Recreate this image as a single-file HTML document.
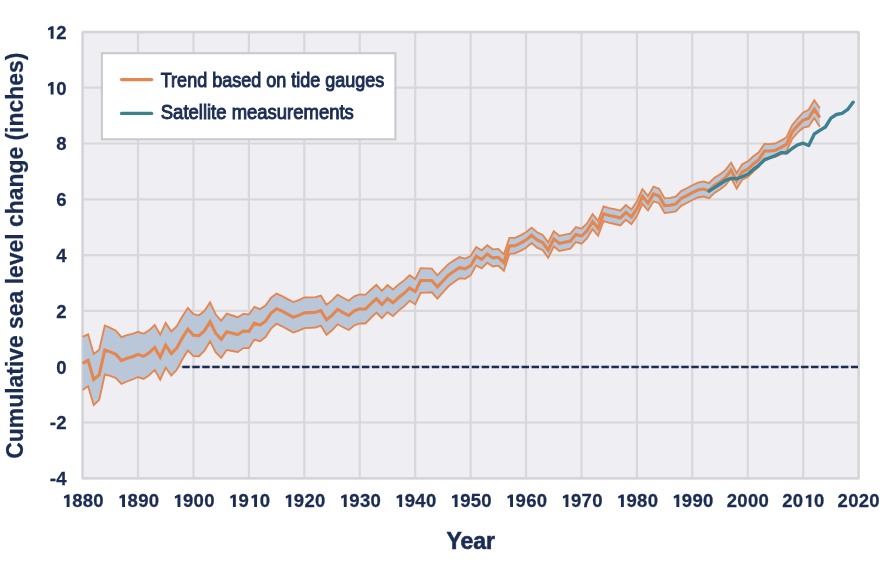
<!DOCTYPE html>
<html><head><meta charset="utf-8"><style>html,body{margin:0;padding:0;background:#fff;}svg{display:block;filter:blur(0.35px);}</style></head>
<body><svg width="880" height="567" viewBox="0 0 880 567">
<rect x="0" y="0" width="880" height="567" fill="#ffffff"/>
<rect x="82.6" y="31.9" width="776" height="446.4" fill="#efeef3"/>
<g stroke="#d8d8db" stroke-width="2.2" fill="none"><line x1="82.6" y1="31.9" x2="82.6" y2="478.3"/><line x1="138.0" y1="31.9" x2="138.0" y2="478.3"/><line x1="193.5" y1="31.9" x2="193.5" y2="478.3"/><line x1="248.9" y1="31.9" x2="248.9" y2="478.3"/><line x1="304.3" y1="31.9" x2="304.3" y2="478.3"/><line x1="359.8" y1="31.9" x2="359.8" y2="478.3"/><line x1="415.2" y1="31.9" x2="415.2" y2="478.3"/><line x1="470.6" y1="31.9" x2="470.6" y2="478.3"/><line x1="526.0" y1="31.9" x2="526.0" y2="478.3"/><line x1="581.5" y1="31.9" x2="581.5" y2="478.3"/><line x1="636.9" y1="31.9" x2="636.9" y2="478.3"/><line x1="692.3" y1="31.9" x2="692.3" y2="478.3"/><line x1="747.8" y1="31.9" x2="747.8" y2="478.3"/><line x1="803.2" y1="31.9" x2="803.2" y2="478.3"/><line x1="858.6" y1="31.9" x2="858.6" y2="478.3"/><line x1="82.6" y1="478.3" x2="858.6" y2="478.3"/><line x1="82.6" y1="422.5" x2="858.6" y2="422.5"/><line x1="82.6" y1="366.7" x2="858.6" y2="366.7"/><line x1="82.6" y1="310.9" x2="858.6" y2="310.9"/><line x1="82.6" y1="255.1" x2="858.6" y2="255.1"/><line x1="82.6" y1="199.3" x2="858.6" y2="199.3"/><line x1="82.6" y1="143.5" x2="858.6" y2="143.5"/><line x1="82.6" y1="87.7" x2="858.6" y2="87.7"/><line x1="82.6" y1="31.9" x2="858.6" y2="31.9"/></g>
<rect x="82.6" y="32.3" width="776" height="446" fill="none" stroke="#d4d4d7" stroke-width="2.1"/>
<line x1="182.3" y1="366.9" x2="858" y2="366.9" stroke="#1b2c52" stroke-width="2.5" stroke-dasharray="7.4 2.58"/>
<polygon points="82.6,336.8 88.1,334.3 93.7,354.0 99.2,349.8 104.8,325.5 110.3,327.9 115.9,330.7 121.4,337.1 126.9,335.2 132.5,333.8 138.0,331.8 143.6,333.8 149.1,330.3 154.7,325.0 160.2,334.8 165.7,322.9 171.3,331.5 176.8,326.2 182.4,316.2 187.9,308.1 193.5,314.2 199.0,315.3 204.5,310.8 210.1,302.4 215.6,314.3 221.2,320.9 226.7,313.7 232.3,315.5 237.8,317.2 243.3,313.9 248.9,314.5 254.4,306.8 260.0,309.1 265.5,305.5 271.1,297.7 276.6,293.6 282.1,296.1 287.7,299.1 293.2,302.1 298.8,300.1 304.3,297.5 309.9,297.3 315.4,297.1 320.9,295.5 326.5,304.8 332.0,300.4 337.6,294.7 343.1,297.8 348.7,300.7 354.2,296.3 359.8,294.4 365.3,294.9 370.8,289.8 376.4,284.7 381.9,290.8 387.5,285.1 393.0,289.5 398.6,284.4 404.1,280.4 409.6,275.3 415.2,279.1 420.7,268.2 426.3,268.4 431.8,268.7 437.4,275.3 442.9,269.7 448.4,264.1 454.0,260.4 459.5,257.1 465.1,258.6 470.6,256.0 476.2,247.0 481.7,250.3 487.2,245.2 492.8,249.3 498.3,248.9 503.9,254.4 509.4,237.9 515.0,237.8 520.5,235.3 526.0,232.3 531.6,227.6 537.1,232.3 542.7,234.9 548.2,242.5 553.8,231.3 559.3,235.8 564.8,234.7 570.4,233.6 575.9,227.0 581.5,228.6 587.0,223.4 592.6,214.2 598.1,220.9 603.6,206.4 609.2,208.1 614.7,209.2 620.3,210.6 625.8,205.0 631.4,209.5 636.9,201.4 642.4,189.2 648.0,195.9 653.5,186.7 659.1,188.7 664.6,198.4 670.2,197.9 675.7,196.7 681.2,191.1 686.8,188.3 692.3,185.2 697.9,182.6 703.4,181.5 709.0,183.1 714.5,177.8 720.0,174.4 725.6,169.9 731.1,162.6 736.7,173.2 742.2,164.2 747.8,161.4 753.3,156.3 758.8,152.3 764.4,143.9 769.9,144.1 775.5,143.5 781.0,140.6 786.6,137.2 792.1,125.2 797.6,118.7 803.2,112.4 808.7,109.8 814.3,100.3 819.8,108.3 819.8,126.8 814.3,118.1 808.7,126.4 803.2,127.7 797.6,132.6 792.1,139.0 786.6,150.9 781.0,154.2 775.5,156.9 769.9,158.0 764.4,158.2 758.8,167.0 753.3,171.5 747.8,177.0 742.2,179.7 736.7,188.6 731.1,178.0 725.6,185.2 720.0,189.6 714.5,192.9 709.0,198.2 703.4,196.5 697.9,197.5 692.3,200.0 686.8,203.0 681.2,205.8 675.7,211.3 670.2,212.4 664.6,213.0 659.1,203.2 653.5,201.3 648.0,210.5 642.4,203.8 636.9,216.1 631.4,224.2 625.8,219.8 620.3,225.4 614.7,224.0 609.2,222.9 603.6,221.2 598.1,235.8 592.6,229.1 587.0,238.3 581.5,243.6 575.9,242.0 570.4,248.7 564.8,249.8 559.3,250.9 553.8,246.5 548.2,257.7 542.7,250.2 537.1,247.7 531.6,243.0 526.0,247.8 520.5,250.9 515.0,253.4 509.4,253.9 503.9,270.8 498.3,265.7 492.8,266.5 487.2,262.8 481.7,268.3 476.2,265.4 470.6,275.4 465.1,278.9 459.5,278.3 454.0,282.1 448.4,286.3 442.9,292.4 437.4,298.5 431.8,292.3 426.3,292.6 420.7,292.8 415.2,304.2 409.6,300.8 404.1,306.3 398.6,310.6 393.0,316.1 387.5,312.2 381.9,318.2 376.4,312.5 370.8,318.0 365.3,323.5 359.8,323.5 354.2,325.5 348.7,330.0 343.1,327.3 337.6,324.3 332.0,330.3 326.5,334.8 320.9,325.7 315.4,327.5 309.9,327.8 304.3,328.2 298.8,330.7 293.2,332.6 287.7,329.4 282.1,326.3 276.6,323.7 271.1,328.5 265.5,337.0 260.0,341.2 254.4,339.6 248.9,348.0 243.3,348.1 237.8,352.0 232.3,351.0 226.7,349.9 221.2,357.8 215.6,352.1 210.1,341.2 204.5,350.6 199.0,356.2 193.5,356.1 187.9,350.5 182.4,359.2 176.8,369.8 171.3,375.6 165.7,367.5 160.2,379.6 154.7,369.9 149.1,375.2 143.6,378.9 138.0,377.0 132.5,379.5 126.9,381.5 121.4,384.0 115.9,378.1 110.3,375.9 104.8,374.5 99.2,399.8 93.7,405.0 88.1,386.3 82.6,389.9" fill="#b9c7d8" stroke="none"/>
<polyline points="82.6,336.8 88.1,334.3 93.7,354.0 99.2,349.8 104.8,325.5 110.3,327.9 115.9,330.7 121.4,337.1 126.9,335.2 132.5,333.8 138.0,331.8 143.6,333.8 149.1,330.3 154.7,325.0 160.2,334.8 165.7,322.9 171.3,331.5 176.8,326.2 182.4,316.2 187.9,308.1 193.5,314.2 199.0,315.3 204.5,310.8 210.1,302.4 215.6,314.3 221.2,320.9 226.7,313.7 232.3,315.5 237.8,317.2 243.3,313.9 248.9,314.5 254.4,306.8 260.0,309.1 265.5,305.5 271.1,297.7 276.6,293.6 282.1,296.1 287.7,299.1 293.2,302.1 298.8,300.1 304.3,297.5 309.9,297.3 315.4,297.1 320.9,295.5 326.5,304.8 332.0,300.4 337.6,294.7 343.1,297.8 348.7,300.7 354.2,296.3 359.8,294.4 365.3,294.9 370.8,289.8 376.4,284.7 381.9,290.8 387.5,285.1 393.0,289.5 398.6,284.4 404.1,280.4 409.6,275.3 415.2,279.1 420.7,268.2 426.3,268.4 431.8,268.7 437.4,275.3 442.9,269.7 448.4,264.1 454.0,260.4 459.5,257.1 465.1,258.6 470.6,256.0 476.2,247.0 481.7,250.3 487.2,245.2 492.8,249.3 498.3,248.9 503.9,254.4 509.4,237.9 515.0,237.8 520.5,235.3 526.0,232.3 531.6,227.6 537.1,232.3 542.7,234.9 548.2,242.5 553.8,231.3 559.3,235.8 564.8,234.7 570.4,233.6 575.9,227.0 581.5,228.6 587.0,223.4 592.6,214.2 598.1,220.9 603.6,206.4 609.2,208.1 614.7,209.2 620.3,210.6 625.8,205.0 631.4,209.5 636.9,201.4 642.4,189.2 648.0,195.9 653.5,186.7 659.1,188.7 664.6,198.4 670.2,197.9 675.7,196.7 681.2,191.1 686.8,188.3 692.3,185.2 697.9,182.6 703.4,181.5 709.0,183.1 714.5,177.8 720.0,174.4 725.6,169.9 731.1,162.6 736.7,173.2 742.2,164.2 747.8,161.4 753.3,156.3 758.8,152.3 764.4,143.9 769.9,144.1 775.5,143.5 781.0,140.6 786.6,137.2 792.1,125.2 797.6,118.7 803.2,112.4 808.7,109.8 814.3,100.3 819.8,108.3" fill="none" stroke="#e4864f" stroke-width="1.85" stroke-linejoin="miter"/>
<polyline points="82.6,389.9 88.1,386.3 93.7,405.0 99.2,399.8 104.8,374.5 110.3,375.9 115.9,378.1 121.4,384.0 126.9,381.5 132.5,379.5 138.0,377.0 143.6,378.9 149.1,375.2 154.7,369.9 160.2,379.6 165.7,367.5 171.3,375.6 176.8,369.8 182.4,359.2 187.9,350.5 193.5,356.1 199.0,356.2 204.5,350.6 210.1,341.2 215.6,352.1 221.2,357.8 226.7,349.9 232.3,351.0 237.8,352.0 243.3,348.1 248.9,348.0 254.4,339.6 260.0,341.2 265.5,337.0 271.1,328.5 276.6,323.7 282.1,326.3 287.7,329.4 293.2,332.6 298.8,330.7 304.3,328.2 309.9,327.8 315.4,327.5 320.9,325.7 326.5,334.8 332.0,330.3 337.6,324.3 343.1,327.3 348.7,330.0 354.2,325.5 359.8,323.5 365.3,323.5 370.8,318.0 376.4,312.5 381.9,318.2 387.5,312.2 393.0,316.1 398.6,310.6 404.1,306.3 409.6,300.8 415.2,304.2 420.7,292.8 426.3,292.6 431.8,292.3 437.4,298.5 442.9,292.4 448.4,286.3 454.0,282.1 459.5,278.3 465.1,278.9 470.6,275.4 476.2,265.4 481.7,268.3 487.2,262.8 492.8,266.5 498.3,265.7 503.9,270.8 509.4,253.9 515.0,253.4 520.5,250.9 526.0,247.8 531.6,243.0 537.1,247.7 542.7,250.2 548.2,257.7 553.8,246.5 559.3,250.9 564.8,249.8 570.4,248.7 575.9,242.0 581.5,243.6 587.0,238.3 592.6,229.1 598.1,235.8 603.6,221.2 609.2,222.9 614.7,224.0 620.3,225.4 625.8,219.8 631.4,224.2 636.9,216.1 642.4,203.8 648.0,210.5 653.5,201.3 659.1,203.2 664.6,213.0 670.2,212.4 675.7,211.3 681.2,205.8 686.8,203.0 692.3,200.0 697.9,197.5 703.4,196.5 709.0,198.2 714.5,192.9 720.0,189.6 725.6,185.2 731.1,178.0 736.7,188.6 742.2,179.7 747.8,177.0 753.3,171.5 758.8,167.0 764.4,158.2 769.9,158.0 775.5,156.9 781.0,154.2 786.6,150.9 792.1,139.0 797.6,132.6 803.2,127.7 808.7,126.4 814.3,118.1 819.8,126.8" fill="none" stroke="#e4864f" stroke-width="1.85" stroke-linejoin="miter"/>
<polyline points="82.6,363.4 88.1,360.3 93.7,379.5 99.2,374.8 104.8,350.0 110.3,351.9 115.9,354.4 121.4,360.6 126.9,358.3 132.5,356.7 138.0,354.4 143.6,356.4 149.1,352.8 154.7,347.4 160.2,357.2 165.7,345.2 171.3,353.6 176.8,348.0 182.4,337.7 187.9,329.3 193.5,335.2 199.0,335.7 204.5,330.7 210.1,321.8 215.6,333.2 221.2,339.4 226.7,331.8 232.3,333.2 237.8,334.6 243.3,331.0 248.9,331.3 254.4,323.2 260.0,325.1 265.5,321.2 271.1,313.1 276.6,308.7 282.1,311.2 287.7,314.2 293.2,317.3 298.8,315.4 304.3,312.9 309.9,312.6 315.4,312.3 320.9,310.6 326.5,319.8 332.0,315.4 337.6,309.5 343.1,312.6 348.7,315.4 354.2,310.9 359.8,308.9 365.3,309.2 370.8,303.9 376.4,298.6 381.9,304.5 387.5,298.6 393.0,302.8 398.6,297.5 404.1,293.3 409.6,288.0 415.2,291.6 420.7,280.5 426.3,280.5 431.8,280.5 437.4,286.9 442.9,281.0 448.4,275.2 454.0,271.3 459.5,267.7 465.1,268.8 470.6,265.7 476.2,256.2 481.7,259.3 487.2,254.0 492.8,257.9 498.3,257.3 503.9,262.6 509.4,245.9 515.0,245.6 520.5,243.1 526.0,240.0 531.6,235.3 537.1,240.0 542.7,242.5 548.2,250.1 553.8,238.9 559.3,243.4 564.8,242.3 570.4,241.1 575.9,234.5 581.5,236.1 587.0,230.8 592.6,221.6 598.1,228.3 603.6,213.8 609.2,215.5 614.7,216.6 620.3,218.0 625.8,212.4 631.4,216.9 636.9,208.8 642.4,196.5 648.0,203.2 653.5,194.0 659.1,196.0 664.6,205.7 670.2,205.2 675.7,204.0 681.2,198.5 686.8,195.7 692.3,192.6 697.9,190.1 703.4,189.0 709.0,190.7 714.5,185.3 720.0,182.0 725.6,177.5 731.1,170.3 736.7,180.9 742.2,172.0 747.8,169.2 753.3,163.9 758.8,159.7 764.4,151.0 769.9,151.0 775.5,150.2 781.0,147.4 786.6,144.1 792.1,132.1 797.6,125.6 803.2,120.1 808.7,118.1 814.3,109.2 819.8,117.6" fill="none" stroke="#e4864f" stroke-width="3.1" stroke-linejoin="miter"/>
<polyline points="709.0,191.2 714.5,187.6 720.0,184.0 725.6,180.3 731.1,178.4 736.7,178.7 742.2,176.7 747.8,174.2 753.3,169.4 758.8,165.3 764.4,160.0 769.9,157.7 775.5,155.5 781.0,152.7 786.6,153.0 792.1,148.5 797.6,144.9 803.2,143.2 808.7,145.5 814.3,134.0 819.8,130.4 825.4,127.0 830.9,118.1 836.4,114.5 842.0,113.4 847.5,109.7 853.1,102.2" fill="none" stroke="#3b8190" stroke-width="3.35" stroke-linejoin="round" stroke-linecap="round"/>
<rect x="101.9" y="53.2" width="293.5" height="86.1" fill="#ffffff" stroke="#cbcbcd" stroke-width="2.2"/>
<line x1="121.6" y1="79.6" x2="151.6" y2="79.6" stroke="#e4864f" stroke-width="3.4" stroke-linecap="round"/>
<line x1="121.6" y1="113.4" x2="151.6" y2="113.4" stroke="#3b8190" stroke-width="3.4" stroke-linecap="round"/>
<g font-family="Liberation Sans, sans-serif" font-weight="bold" fill="#1b2c52" stroke="#1b2c52" stroke-width="0.25">
<text x="160.8" y="86.5" font-size="19.5" font-weight="normal" stroke-width="0.95" textLength="223.5" lengthAdjust="spacingAndGlyphs">Trend based on tide gauges</text>
<text x="160.8" y="119" font-size="19.5" font-weight="normal" stroke-width="0.95" textLength="193" lengthAdjust="spacingAndGlyphs">Satellite measurements</text>
<g font-size="17.5"><text transform="translate(61.30,485.20) scale(1.06,1)" text-anchor="middle">4</text><text transform="translate(53.00,485.20) scale(1.09,1)" text-anchor="middle">-</text><text transform="translate(61.30,429.40) scale(1.06,1)" text-anchor="middle">2</text><text transform="translate(53.00,429.40) scale(1.09,1)" text-anchor="middle">-</text><text transform="translate(61.30,373.60) scale(1.06,1)" text-anchor="middle">0</text><text transform="translate(61.30,317.80) scale(1.06,1)" text-anchor="middle">2</text><text transform="translate(61.30,262.00) scale(1.06,1)" text-anchor="middle">4</text><text transform="translate(61.30,206.20) scale(1.06,1)" text-anchor="middle">6</text><text transform="translate(61.30,150.40) scale(1.06,1)" text-anchor="middle">8</text><text transform="translate(61.30,94.60) scale(1.06,1)" text-anchor="middle">0</text><polygon stroke="none" points="47.80,84.20 51.20,82.10 53.55,82.10 53.55,94.60 50.65,94.60 50.65,85.30 48.35,86.40"/><text transform="translate(61.30,38.80) scale(1.06,1)" text-anchor="middle">2</text><polygon stroke="none" points="47.80,28.40 51.20,26.30 53.55,26.30 53.55,38.80 50.65,38.80 50.65,29.50 48.35,30.60"/><polygon stroke="none" points="63.80,496.50 67.20,494.40 69.55,494.40 69.55,506.90 66.65,506.90 66.65,497.60 64.35,498.70"/><text transform="translate(77.30,506.90) scale(1.06,1)" text-anchor="middle">8</text><text transform="translate(87.90,506.90) scale(1.06,1)" text-anchor="middle">8</text><text transform="translate(98.50,506.90) scale(1.06,1)" text-anchor="middle">0</text><polygon stroke="none" points="119.23,496.50 122.63,494.40 124.98,494.40 124.98,506.90 122.08,506.90 122.08,497.60 119.78,498.70"/><text transform="translate(132.73,506.90) scale(1.06,1)" text-anchor="middle">8</text><text transform="translate(143.33,506.90) scale(1.06,1)" text-anchor="middle">9</text><text transform="translate(153.93,506.90) scale(1.06,1)" text-anchor="middle">0</text><polygon stroke="none" points="174.66,496.50 178.06,494.40 180.41,494.40 180.41,506.90 177.51,506.90 177.51,497.60 175.21,498.70"/><text transform="translate(188.16,506.90) scale(1.06,1)" text-anchor="middle">9</text><text transform="translate(198.76,506.90) scale(1.06,1)" text-anchor="middle">0</text><text transform="translate(209.36,506.90) scale(1.06,1)" text-anchor="middle">0</text><polygon stroke="none" points="230.09,496.50 233.49,494.40 235.84,494.40 235.84,506.90 232.94,506.90 232.94,497.60 230.64,498.70"/><text transform="translate(243.59,506.90) scale(1.06,1)" text-anchor="middle">9</text><polygon stroke="none" points="251.29,496.50 254.69,494.40 257.04,494.40 257.04,506.90 254.14,506.90 254.14,497.60 251.84,498.70"/><text transform="translate(264.79,506.90) scale(1.06,1)" text-anchor="middle">0</text><polygon stroke="none" points="285.52,496.50 288.92,494.40 291.27,494.40 291.27,506.90 288.37,506.90 288.37,497.60 286.07,498.70"/><text transform="translate(299.02,506.90) scale(1.06,1)" text-anchor="middle">9</text><text transform="translate(309.62,506.90) scale(1.06,1)" text-anchor="middle">2</text><text transform="translate(320.22,506.90) scale(1.06,1)" text-anchor="middle">0</text><polygon stroke="none" points="340.95,496.50 344.35,494.40 346.70,494.40 346.70,506.90 343.80,506.90 343.80,497.60 341.50,498.70"/><text transform="translate(354.45,506.90) scale(1.06,1)" text-anchor="middle">9</text><text transform="translate(365.05,506.90) scale(1.06,1)" text-anchor="middle">3</text><text transform="translate(375.65,506.90) scale(1.06,1)" text-anchor="middle">0</text><polygon stroke="none" points="396.38,496.50 399.78,494.40 402.13,494.40 402.13,506.90 399.23,506.90 399.23,497.60 396.93,498.70"/><text transform="translate(409.88,506.90) scale(1.06,1)" text-anchor="middle">9</text><text transform="translate(420.48,506.90) scale(1.06,1)" text-anchor="middle">4</text><text transform="translate(431.08,506.90) scale(1.06,1)" text-anchor="middle">0</text><polygon stroke="none" points="451.81,496.50 455.21,494.40 457.56,494.40 457.56,506.90 454.66,506.90 454.66,497.60 452.36,498.70"/><text transform="translate(465.31,506.90) scale(1.06,1)" text-anchor="middle">9</text><text transform="translate(475.91,506.90) scale(1.06,1)" text-anchor="middle">5</text><text transform="translate(486.51,506.90) scale(1.06,1)" text-anchor="middle">0</text><polygon stroke="none" points="507.24,496.50 510.64,494.40 512.99,494.40 512.99,506.90 510.09,506.90 510.09,497.60 507.79,498.70"/><text transform="translate(520.74,506.90) scale(1.06,1)" text-anchor="middle">9</text><text transform="translate(531.34,506.90) scale(1.06,1)" text-anchor="middle">6</text><text transform="translate(541.94,506.90) scale(1.06,1)" text-anchor="middle">0</text><polygon stroke="none" points="562.67,496.50 566.07,494.40 568.42,494.40 568.42,506.90 565.52,506.90 565.52,497.60 563.22,498.70"/><text transform="translate(576.17,506.90) scale(1.06,1)" text-anchor="middle">9</text><text transform="translate(586.77,506.90) scale(1.06,1)" text-anchor="middle">7</text><text transform="translate(597.37,506.90) scale(1.06,1)" text-anchor="middle">0</text><polygon stroke="none" points="618.10,496.50 621.50,494.40 623.85,494.40 623.85,506.90 620.95,506.90 620.95,497.60 618.65,498.70"/><text transform="translate(631.60,506.90) scale(1.06,1)" text-anchor="middle">9</text><text transform="translate(642.20,506.90) scale(1.06,1)" text-anchor="middle">8</text><text transform="translate(652.80,506.90) scale(1.06,1)" text-anchor="middle">0</text><polygon stroke="none" points="673.53,496.50 676.93,494.40 679.28,494.40 679.28,506.90 676.38,506.90 676.38,497.60 674.08,498.70"/><text transform="translate(687.03,506.90) scale(1.06,1)" text-anchor="middle">9</text><text transform="translate(697.63,506.90) scale(1.06,1)" text-anchor="middle">9</text><text transform="translate(708.23,506.90) scale(1.06,1)" text-anchor="middle">0</text><text transform="translate(731.86,506.90) scale(1.06,1)" text-anchor="middle">2</text><text transform="translate(742.46,506.90) scale(1.06,1)" text-anchor="middle">0</text><text transform="translate(753.06,506.90) scale(1.06,1)" text-anchor="middle">0</text><text transform="translate(763.66,506.90) scale(1.06,1)" text-anchor="middle">0</text><text transform="translate(787.29,506.90) scale(1.06,1)" text-anchor="middle">2</text><text transform="translate(797.89,506.90) scale(1.06,1)" text-anchor="middle">0</text><polygon stroke="none" points="805.59,496.50 808.99,494.40 811.34,494.40 811.34,506.90 808.44,506.90 808.44,497.60 806.14,498.70"/><text transform="translate(819.09,506.90) scale(1.06,1)" text-anchor="middle">0</text><text transform="translate(842.72,506.90) scale(1.06,1)" text-anchor="middle">2</text><text transform="translate(853.32,506.90) scale(1.06,1)" text-anchor="middle">0</text><text transform="translate(863.92,506.90) scale(1.06,1)" text-anchor="middle">2</text><text transform="translate(874.52,506.90) scale(1.06,1)" text-anchor="middle">0</text></g>
<text x="470.7" y="548.9" font-size="23" stroke-width="0.6" text-anchor="middle">Year</text>
<text transform="translate(23.3,255.7) rotate(-90)" font-size="23" text-anchor="middle" textLength="406" lengthAdjust="spacingAndGlyphs">Cumulative sea level change (inches)</text>
</g>
</svg></body></html>
